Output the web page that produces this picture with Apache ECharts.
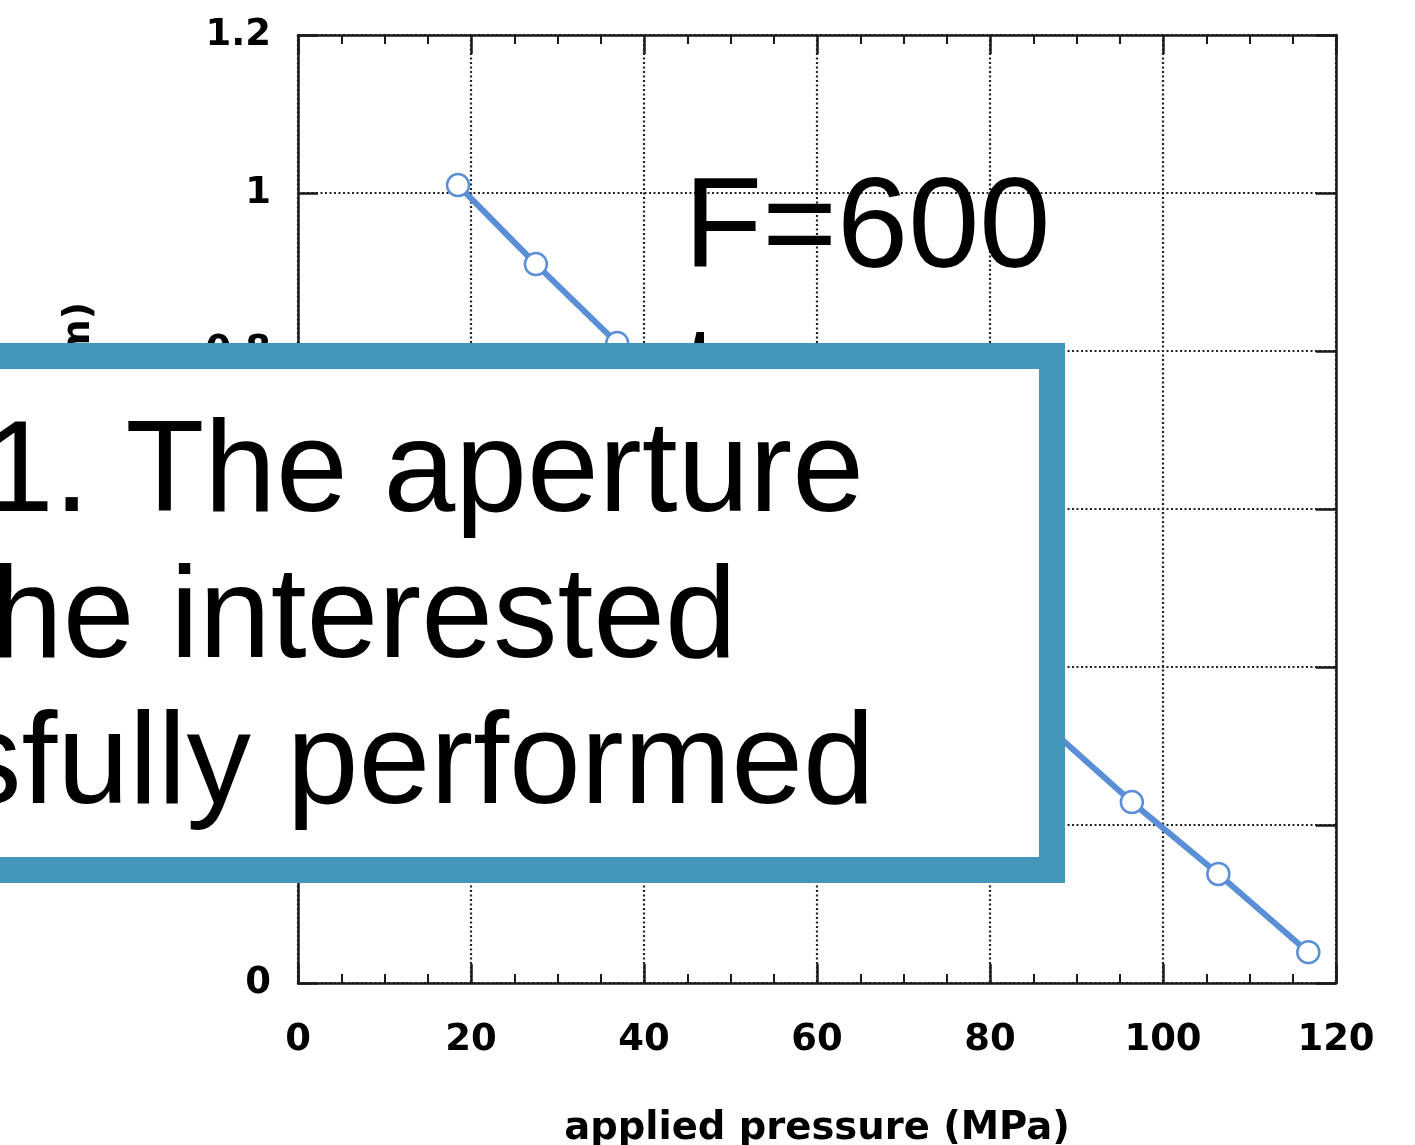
<!DOCTYPE html>
<html>
<head>
<meta charset="utf-8">
<script src="https://cdn.jsdelivr.net/npm/echarts@6/dist/echarts.min.js"></script>
<style>
html,body{margin:0;padding:0;background:#fff;}
#chart{width:1415px;height:1145px;}
</style>
</head>
<body>
<div id="chart"></div>
<script>
// applied pressure (MPa)
var pressure = [18.5, 27.5, 36.9, 46.6, 56.5, 66.4, 76.4, 86.4, 96.4, 106.4, 116.8];
// aperture values
var aperture = [1.010, 0.910, 0.810, 0.713, 0.617, 0.520, 0.424, 0.327, 0.229, 0.138, 0.039];
var xTicks = {min: 0, max: 120, interval: 20};
var yTicks = {min: 0, max: 1.2, interval: 0.2};
var xName = 'applied pressure (MPa)';
var yName = 'aperture (mm)';
var noteLines = ['F=600', 't'];
var boxLines = ['1. The aperture', 'he interested', 'sfully performed'];

var points = pressure.map(function (p, i) { return [p, aperture[i]]; });

var axisColor = '#1a1a1a';
var labelFont = {fontFamily: 'DejaVu Sans', fontWeight: 'bold', color: '#000'};

function baseX(pos, showLabel) {
  return {
    type: 'value', position: pos, min: xTicks.min, max: xTicks.max, interval: xTicks.interval,
    axisLine: {show: true, onZero: false, lineStyle: {color: axisColor, width: 2.5}},
    axisTick: {show: true, inside: true, length: 19, lineStyle: {color: axisColor, width: 2.5}},
    minorTick: {show: true, splitNumber: 4, length: 9, lineStyle: {color: axisColor, width: 2}},
    axisLabel: Object.assign({show: showLabel, fontSize: 37, margin: 39}, labelFont),
    splitLine: {show: showLabel, lineStyle: {color: '#222', width: 2.2, type: [2, 2.5]}},
    minorSplitLine: {show: false}
  };
}
function baseY(pos, showLabel) {
  return {
    type: 'value', position: pos, min: yTicks.min, max: yTicks.max, interval: yTicks.interval,
    axisLine: {show: true, onZero: false, lineStyle: {color: axisColor, width: 2.5}},
    axisTick: {show: true, inside: true, length: 20, lineStyle: {color: axisColor, width: 2.5}},
    axisLabel: Object.assign({show: showLabel, fontSize: 37, margin: 27}, labelFont),
    splitLine: {show: showLabel, lineStyle: {color: '#222', width: 2.2, type: [2, 2.5]}}
  };
}

var x0 = baseX('bottom', true);
x0.name = xName;
x0.nameLocation = 'middle';
x0.nameGap = 126;
x0.nameTextStyle = Object.assign({fontSize: 38.5}, labelFont);
var x1 = baseX('top', false);

var y0 = baseY('left', true);
y0.name = yName;
y0.nameLocation = 'middle';
y0.nameRotate = 90;
y0.nameGap = 200;
y0.nameTextStyle = Object.assign({fontSize: 38, padding: [0, 0, 0, 100]}, labelFont);
var y1 = baseY('right', false);

var chart = echarts.init(document.getElementById('chart'), null, {renderer: 'canvas'});
chart.setOption({
  animation: false,
  backgroundColor: '#fff',
  grid: {left: 298, right: 79, top: 35, bottom: 162, containLabel: false, outerBoundsMode: 'none'},
  xAxis: [x0, x1],
  yAxis: [y0, y1],
  series: [{
    type: 'line',
    xAxisIndex: 0, yAxisIndex: 0,
    data: points,
    symbol: 'circle', symbolSize: 22,
    lineStyle: {color: '#5a8fd8', width: 6},
    itemStyle: {color: '#ffffff', borderColor: '#5a8fd8', borderWidth: 2.5},
    clip: false, silent: true, z: 3
  }],
  graphic: [
    {type: 'text', z: 50, style: {text: noteLines[0], x: 684, y: 232, fontSize: 128, fontFamily: 'Liberation Sans', fill: '#000', align: 'left', verticalAlign: 'middle'}},
    {type: 'text', z: 50, style: {text: noteLines[1], x: 683, y: 380, fontSize: 128, fontFamily: 'Liberation Sans', fill: '#000', align: 'left', verticalAlign: 'middle'}},
    {type: 'rect', z: 60, shape: {x: -40, y: 356, width: 1092, height: 514}, style: {fill: '#ffffff', stroke: '#4396ba', lineWidth: 26}},
    {type: 'text', z: 70, style: {text: boxLines[0], x: -18, y: 475, fontSize: 129, fontFamily: 'Liberation Sans', fill: '#000', align: 'left', verticalAlign: 'middle'}},
    {type: 'text', z: 70, style: {text: boxLines[1], x: -9, y: 621, fontSize: 129, fontFamily: 'Liberation Sans', fill: '#000', align: 'left', verticalAlign: 'middle'}},
    {type: 'text', z: 70, style: {text: boxLines[2], x: -43, y: 767, fontSize: 129, fontFamily: 'Liberation Sans', fill: '#000', align: 'left', verticalAlign: 'middle'}}
  ]
});
</script>
</body>
</html>
